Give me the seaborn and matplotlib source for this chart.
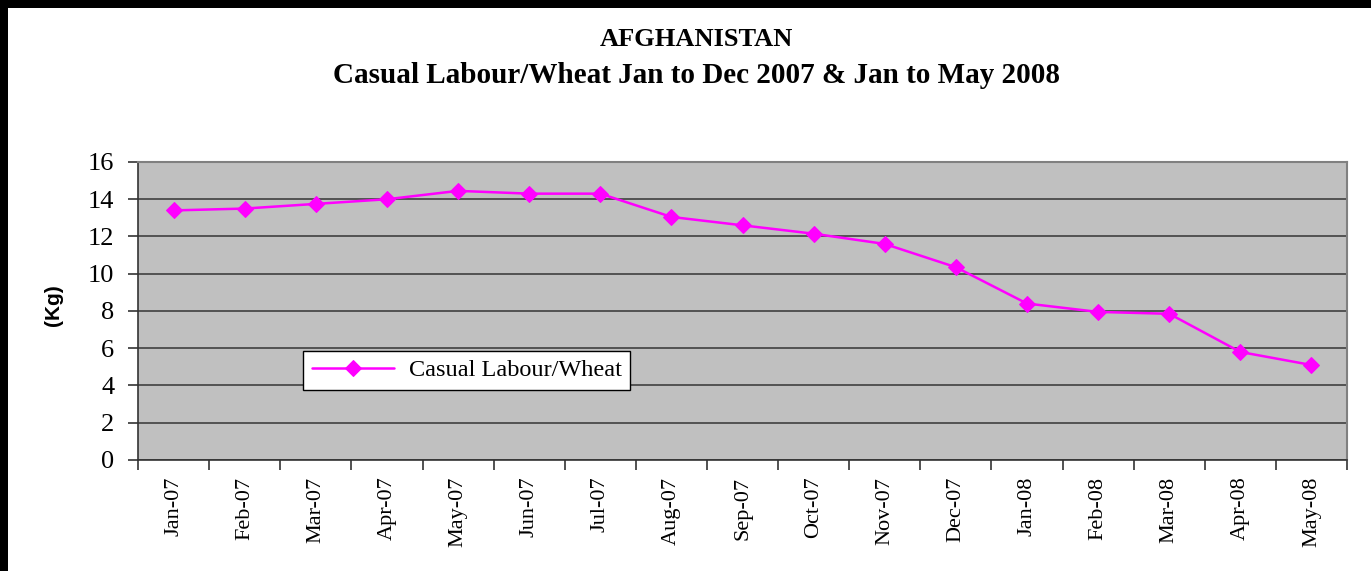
import pandas as pd
import numpy as np
import matplotlib.pyplot as plt
import seaborn as sns
from matplotlib.patches import Rectangle
from matplotlib.ticker import FixedLocator

# Data
months = ["Jan-07", "Feb-07", "Mar-07", "Apr-07", "May-07", "Jun-07", "Jul-07",
          "Aug-07", "Sep-07", "Oct-07", "Nov-07", "Dec-07", "Jan-08", "Feb-08",
          "Mar-08", "Apr-08", "May-08"]
kg_values = [13.4, 13.5, 13.75, 14.0, 14.45, 14.3, 14.3, 13.05, 12.6, 12.15,
             11.6, 10.35, 8.4, 7.95, 7.85, 5.8, 5.1]
series_name = "Casual Labour/Wheat"

df = pd.DataFrame({"month": months, "kg": kg_values})
df["pos"] = np.arange(len(months))

sns.set_style("white")
plt.rcParams["font.family"] = ["Liberation Serif", "DejaVu Serif"]
plt.rcParams["text.color"] = "black"
plt.rcParams["axes.labelcolor"] = "black"
plt.rcParams["xtick.labelcolor"] = "black"
plt.rcParams["ytick.labelcolor"] = "black"

fig = plt.figure(figsize=(13.71, 5.71), dpi=100)
ax = fig.add_axes([0.1007, 0.1944, 0.8818, 0.5219])
ax.set_facecolor("#C0C0C0")

sns.lineplot(data=df, x="pos", y="kg", ax=ax, color="#FF00FF", marker="D",
             markersize=8, markeredgecolor="#FF00FF", linewidth=1.8,
             label=series_name, zorder=3)

# Axis ranges and ticks
ax.set_ylim(0, 16)
ax.set_yticks(range(0, 17, 2))
ax.set_xlim(-0.5, len(months) - 0.5)
ax.set_xticks(df["pos"])
ax.set_xticklabels(months, rotation=90, fontsize=16)
ax.xaxis.set_minor_locator(FixedLocator(np.arange(-0.5, len(months), 1.0)))
ax.tick_params(axis="x", which="major", length=0, pad=12)
ax.tick_params(axis="x", which="minor", length=7, width=1.2, color="#333333", direction="out")
ax.tick_params(axis="y", length=7, width=1.2, color="#333333", direction="out",
               labelsize=19, pad=10)
ax.tick_params(bottom=True, left=True, which="both")

ax.yaxis.grid(True, color="#404040", linewidth=1.2)
ax.set_axisbelow(True)
ax.set_xlabel("")
ax.set_ylabel("(Kg)", fontsize=15, fontweight="bold", family="Liberation Sans")
ax.yaxis.set_label_coords(-0.062, 0.52)

for side in ["top", "right"]:
    ax.spines[side].set_color("#808080")
    ax.spines[side].set_linewidth(1.5)
for side in ["left", "bottom"]:
    ax.spines[side].set_color("#333333")
    ax.spines[side].set_linewidth(1.2)

leg = ax.legend(loc="lower left", bbox_to_anchor=(0.1365, 0.235), fontsize=17.5,
                frameon=True, fancybox=False, edgecolor="black", framealpha=1,
                borderpad=0.35, handlelength=3.4, handletextpad=0.6,
                borderaxespad=0)
leg.get_frame().set_linewidth(1.0)

# Titles
fig.text(0.508, 0.93, "AFGHANISTAN", ha="center", va="center", fontsize=19, fontweight="bold")
fig.text(0.508, 0.867, "Casual Labour/Wheat Jan to Dec 2007 & Jan to May 2008",
         ha="center", va="center", fontsize=21, fontweight="bold")

# Black frame bands at top and left edges
fig.patches.append(Rectangle((0, 0.986), 1, 0.014, transform=fig.transFigure,
                             facecolor="black", edgecolor="none", zorder=10))
fig.patches.append(Rectangle((0, 0), 0.006, 1, transform=fig.transFigure,
                             facecolor="black", edgecolor="none", zorder=10))

fig.savefig("out.png", dpi=100)
plt.close(fig)
